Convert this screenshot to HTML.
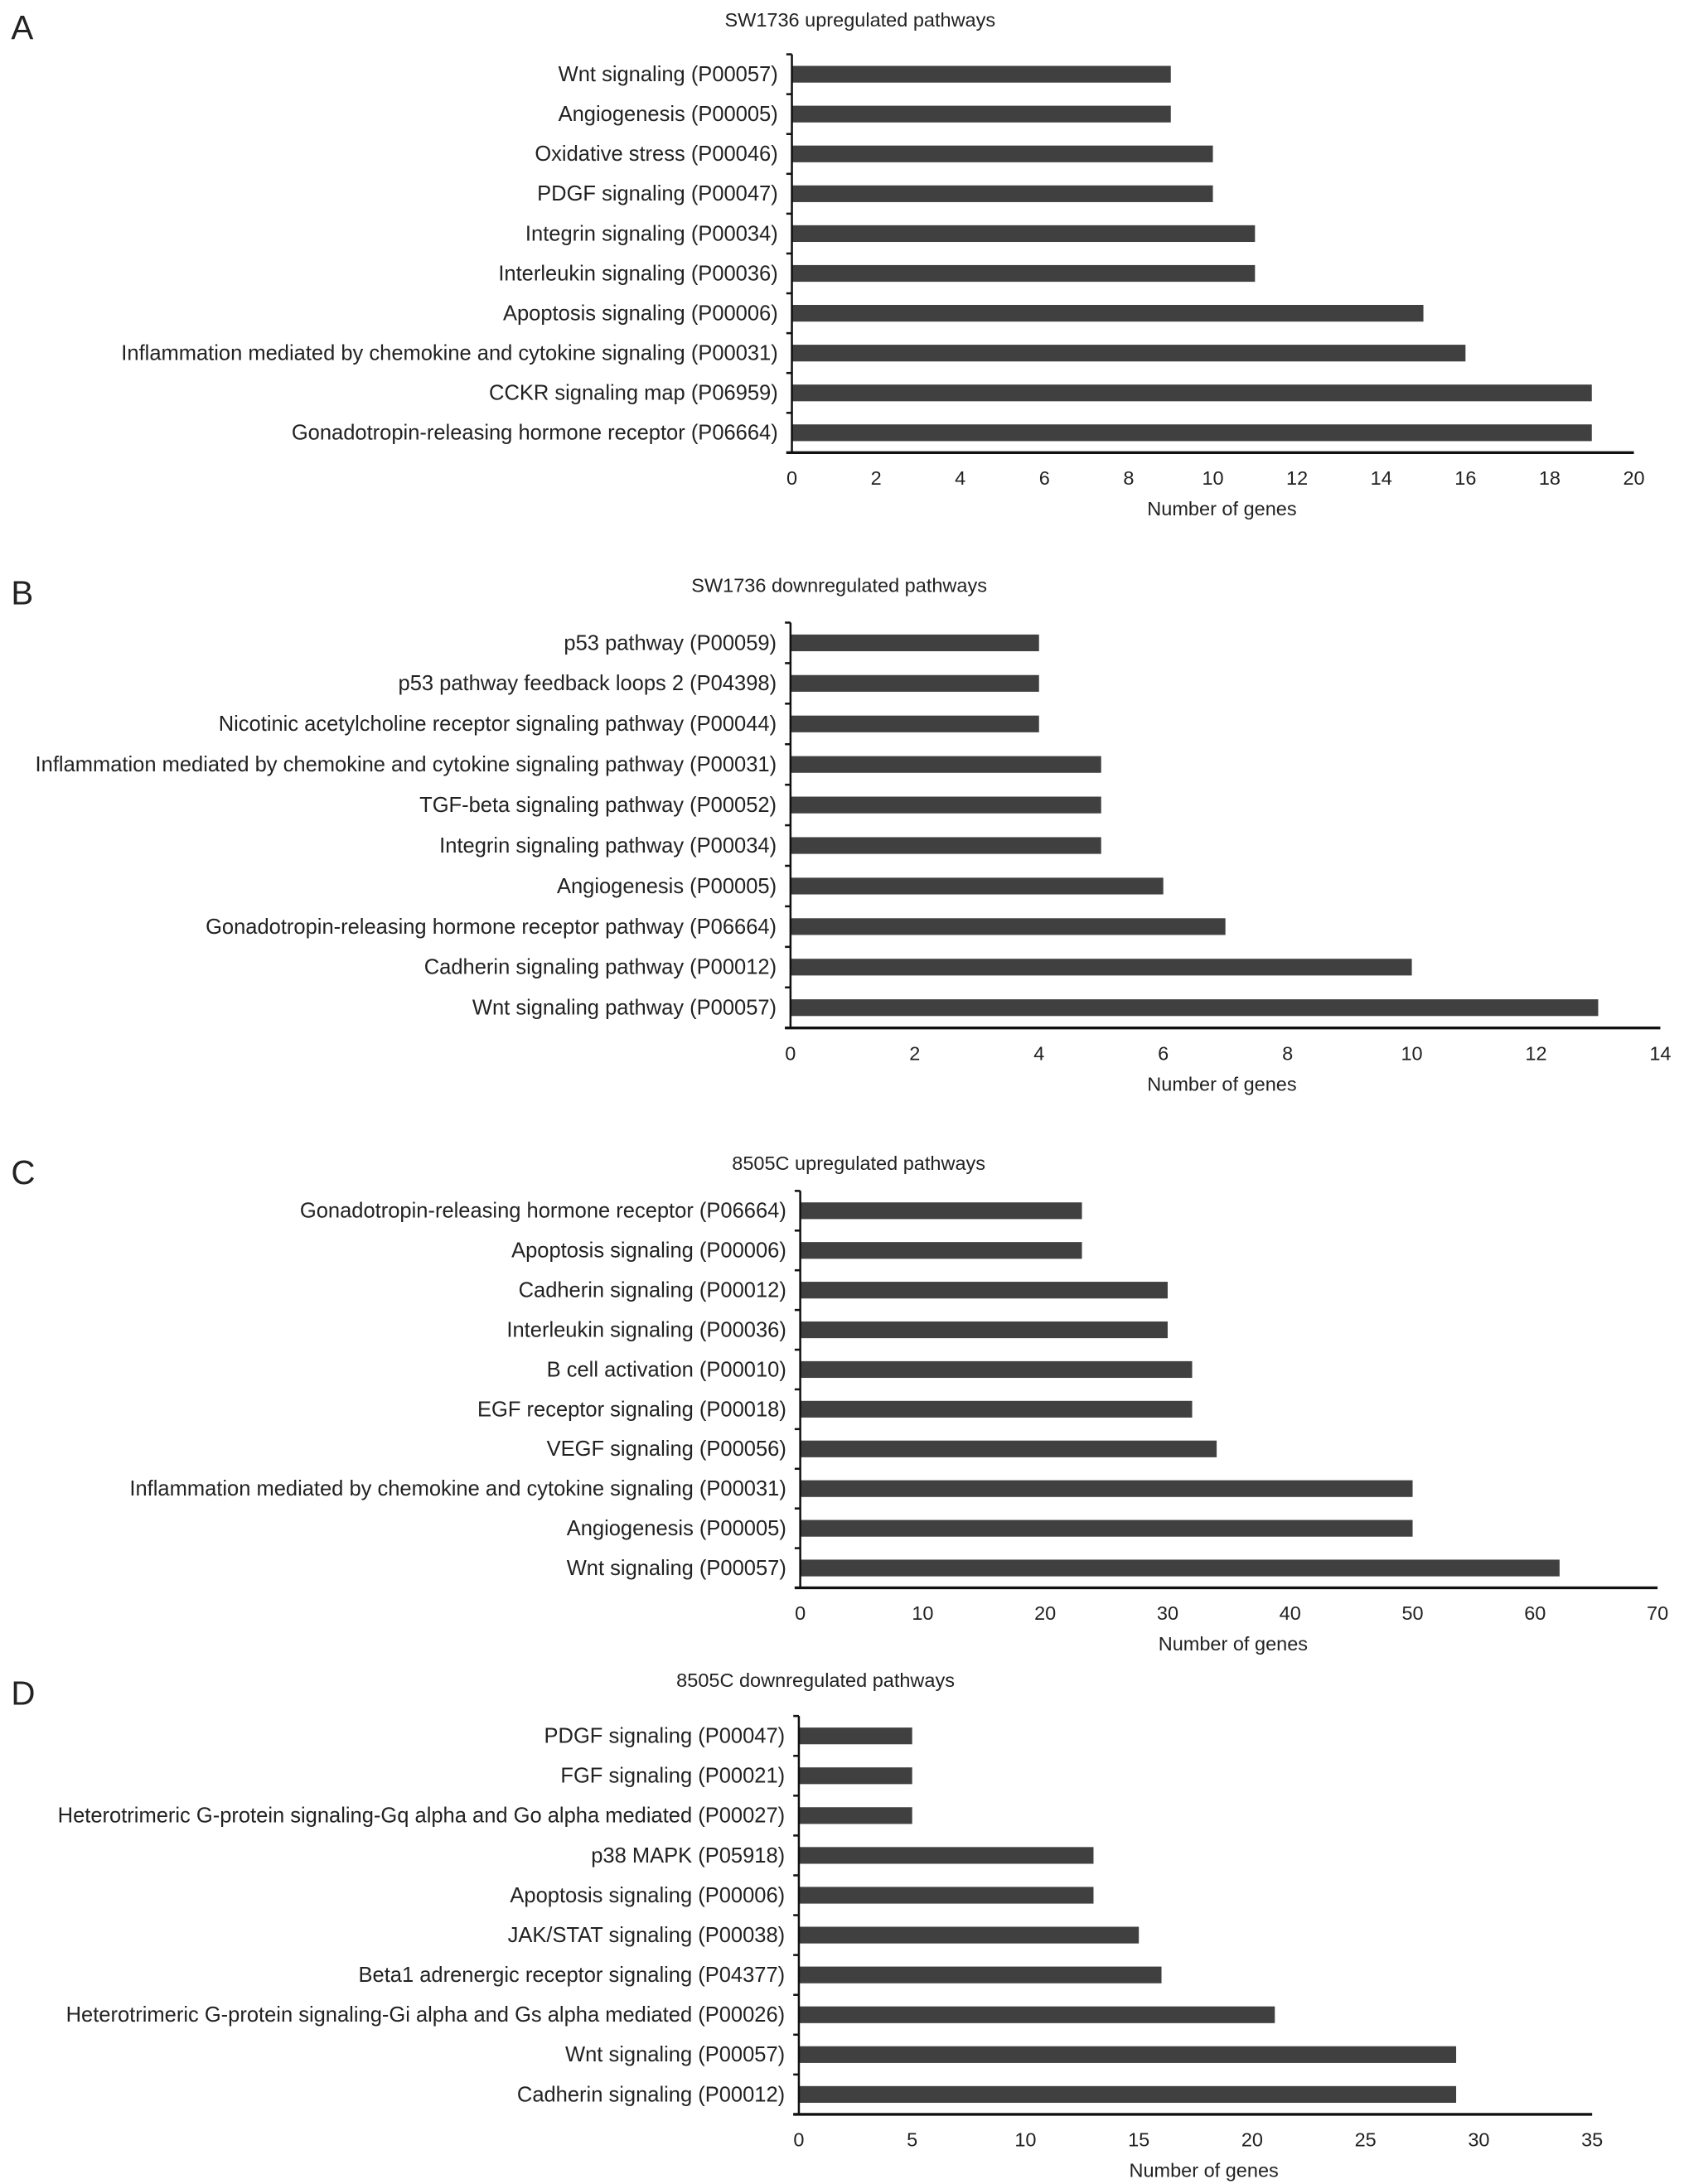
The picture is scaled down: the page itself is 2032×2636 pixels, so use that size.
<!DOCTYPE html>
<html><head><meta charset="utf-8"><style>
html,body{margin:0;padding:0;background:#fff}
svg{display:block}
text{font-family:"Liberation Sans",Arial,sans-serif;fill:#222}
</style></head><body>
<svg id="fig" width="2032" height="2636" viewBox="0 0 1210 1568" preserveAspectRatio="none" xmlns="http://www.w3.org/2000/svg"></svg>
<script>
const catsA=["Wnt signaling (P00057)","Angiogenesis (P00005)","Oxidative stress (P00046)","PDGF signaling (P00047)","Integrin signaling (P00034)","Interleukin signaling (P00036)","Apoptosis signaling (P00006)","Inflammation mediated by chemokine and cytokine signaling (P00031)","CCKR signaling map (P06959)","Gonadotropin-releasing hormone receptor (P06664)"];
const valsA=[9,9,10,10,11,11,15,16,19,19];
const ticksA=[0,2,4,6,8,10,12,14,16,18,20];
const catsB=["p53 pathway (P00059)","p53 pathway feedback loops 2 (P04398)","Nicotinic acetylcholine receptor signaling pathway (P00044)","Inflammation mediated by chemokine and cytokine signaling pathway (P00031)","TGF-beta signaling pathway (P00052)","Integrin signaling pathway (P00034)","Angiogenesis (P00005)","Gonadotropin-releasing hormone receptor pathway (P06664)","Cadherin signaling pathway (P00012)","Wnt signaling pathway (P00057)"];
const valsB=[4,4,4,5,5,5,6,7,10,13];
const ticksB=[0,2,4,6,8,10,12,14];
const catsC=["Gonadotropin-releasing hormone receptor (P06664)","Apoptosis signaling (P00006)","Cadherin signaling (P00012)","Interleukin signaling (P00036)","B cell activation (P00010)","EGF receptor signaling (P00018)","VEGF signaling (P00056)","Inflammation mediated by chemokine and cytokine signaling (P00031)","Angiogenesis (P00005)","Wnt signaling (P00057)"];
const valsC=[23,23,30,30,32,32,34,50,50,62];
const ticksC=[0,10,20,30,40,50,60,70];
const catsD=["PDGF signaling (P00047)","FGF signaling (P00021)","Heterotrimeric G-protein signaling-Gq alpha and Go alpha mediated (P00027)","p38 MAPK (P05918)","Apoptosis signaling (P00006)","JAK/STAT signaling (P00038)","Beta1 adrenergic receptor signaling (P04377)","Heterotrimeric G-protein signaling-Gi alpha and Gs alpha mediated (P00026)","Wnt signaling (P00057)","Cadherin signaling (P00012)"];
const valsD=[5,5,5,13,13,15,16,21,29,29];
const ticksD=[0,5,10,15,20,25,30,35];

const svg=document.getElementById('fig');
const NS='http://www.w3.org/2000/svg';
function mk(tag,attrs,parent){const e=document.createElementNS(NS,tag);for(const k in attrs)e.setAttribute(k,attrs[k]);(parent||svg).appendChild(e);return e;}

function panel(p){
  const g=mk('g',{});
  
  
  const xs=v=>p.x0+(v/p.max)*(p.x1-p.x0);
  const n=p.cats.length;
  const step=(p.axisY-p.top)/n;
  const yc=i=>p.top+step*(i+0.5);
  const L=mk('text',{x:8,y:p.letterY,'font-size':24},g);L.textContent=p.id;
  
  
  const T=mk('text',{x:p.titleX,y:p.titleY,'font-size':14,'text-anchor':'middle'},g);T.textContent=p.title;
  
  
  p.cats.forEach((c,i)=>{
    const r=mk('rect',{x:p.x0,y:yc(i)-6,width:xs(p.vals[i])-p.x0,height:12,fill:'#404040'},g);
    
    
    const t=mk('text',{x:p.x0-10,y:yc(i)+5,'font-size':15.2,'text-anchor':'end'},g);t.textContent=c;
    
    
  });
  for(let i=0;i<=n;i++){
    const y=p.top+step*i;
    const tk=mk('line',{x1:p.x0-4,x2:p.x0,y1:y,y2:y,stroke:'#111','stroke-width':1.5},g);
    
    
  }
  const ya=mk('line',{x1:p.x0,x2:p.x0,y1:p.top,y2:p.axisY,stroke:'#111','stroke-width':1.5},g);
  
  
  const xa=mk('line',{x1:p.x0-4,x2:p.x1,y1:p.axisY,y2:p.axisY,stroke:'#111','stroke-width':2},g);
  
  
  p.ticks.forEach(v=>{
    const t=mk('text',{x:xs(v),y:p.axisY+23,'font-size':14,'text-anchor':'middle'},g);t.textContent=v;
    
    
  });
  const at=mk('text',{x:p.atX,y:p.axisY+45,'font-size':14,'text-anchor':'middle'},g);at.textContent='Number of genes';
  
  
}
panel({id:'A',title:'SW1736 upregulated pathways',cats:catsA,vals:valsA,ticks:ticksA,max:20,x0:569,x1:1174,top:39,axisY:325,letterY:28,titleX:618,titleY:19,atX:878});
panel({id:'B',title:'SW1736 downregulated pathways',cats:catsB,vals:valsB,ticks:ticksB,max:14,x0:568,x1:1193,top:447,axisY:738,letterY:434,titleX:603,titleY:425,atX:878});
panel({id:'C',title:'8505C upregulated pathways',cats:catsC,vals:valsC,ticks:ticksC,max:70,x0:575,x1:1191,top:855,axisY:1140,letterY:850,titleX:617,titleY:840,atX:886});
panel({id:'D',title:'8505C downregulated pathways',cats:catsD,vals:valsD,ticks:ticksD,max:35,x0:574,x1:1144,top:1232,axisY:1518,letterY:1224,titleX:586,titleY:1211,atX:865});
</script>
</body></html>
